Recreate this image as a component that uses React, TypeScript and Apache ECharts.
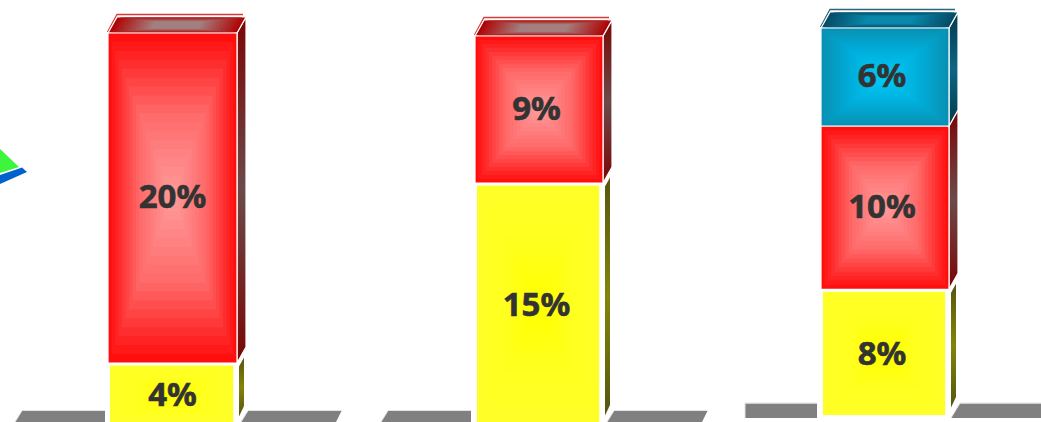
import React, { useEffect, useRef } from "react";
import * as echarts from "echarts";

const chartA = [4, 20];
const chartB = [15, 9];
const chartC = [8, 10, 6];
const segmentOrder = ["yellow", "red", "blue"];
const axisMax = 24;

const palette: any = {
  yellow: { edge: [255, 255, 40], mid: [255, 255, 30], core: [255, 255, 0], sideA: "#55550f", sideB: "#84840a", topA: [128, 128, 0], topB: [160, 160, 64] },
  red: { edge: [255, 14, 14], mid: [255, 105, 105], core: [255, 150, 150], sideA: "#7a0505", sideB: "#6c4a4a", topA: [176, 4, 4], topB: [163, 128, 128] },
  blue: { edge: [8, 145, 180], mid: [0, 175, 220], core: [0, 200, 245], sideA: "#03394d", sideB: "#0d6584", topA: [4, 76, 104], topB: [10, 135, 170] },
};

const depthX = 9;
const depthY = 16;
const rings = 18;
const topRings = 12;
const labelLift = 2.5;

const mix = (a: number[], b: number[], t: number) =>
  `rgb(${a.map((v, i) => Math.round(v + (b[i] - v) * t)).join(",")})`;

const ringColor = (p: any, t: number) =>
  t < 0.5 ? mix(p.edge, p.mid, t / 0.5) : mix(p.mid, p.core, (t - 0.5) / 0.5);

function renderBar(isTop: boolean, name: string, labelDx: number) {
  const p = palette[name];
  const yellow = name === "yellow";
  return (_params: any, api: any) => {
    const base = api.value(1);
    const end = api.value(2);
    const [cx, yb] = api.coord([api.value(0), base]);
    const [, yt] = api.coord([api.value(0), end]);
    const w = api.size([1, 0])[0];
    const x0 = cx - w / 2;
    const x1 = cx + w / 2;
    const children: any[] = [];

    const fx0 = yellow ? x0 + 2 : x0;
    const fx1 = yellow ? x1 - 3.8 : x1;
    const fy0 = yellow ? yt + 2.5 : yt;
    const fy1 = yellow ? yb - 5 : yb;

    const sideFill = { type: "linear", x: 0, y: 0, x2: 0, y2: 1, colorStops: [{ offset: 0, color: p.sideA }, { offset: 0.5, color: p.sideB }, { offset: 1, color: p.sideA }] };
    if (yellow) {
      children.push({
        type: "polygon",
        shape: { points: [[x1 + 2, yt + 3.5], [x1 + 7, yt - 5.5], [x1 + 7, yb - 23], [x1 + 2, yb - 12.5]] },
        style: { fill: sideFill },
      });
    } else {
      children.push({
        type: "polygon",
        shape: { points: [[x1, yt], [x1 + depthX, yt - depthY], [x1 + depthX, yb - depthY], [x1, yb]] },
        style: { fill: sideFill, stroke: "#ffffff", lineWidth: 1.2 },
      });
    }

    if (isTop) {
      children.push({
        type: "polyline",
        shape: { points: [[x0 - 0.5, yt - 1], [x0 + depthX, yt - depthY - 2.5], [x1 + depthX - 3, yt - depthY - 2.5]] },
        style: { fill: "none", stroke: mix(p.topA, [255, 60, 60], name === "red" ? 0.4 : 0), lineWidth: 1.3, opacity: 0.85 },
      });
      const tcx = (x0 + x1 + depthX) / 2;
      const tcy = yt - depthY / 2;
      const topPts = [[x0, yt], [x0 + depthX, yt - depthY], [x1 + depthX, yt - depthY], [x1, yt]];
      for (let i = 0; i < topRings; i++) {
        const t = i / (topRings - 1);
        const sx = 1 - t * 0.62;
        const sy = 1 - t * 0.55;
        const pts = topPts.map(([px, py]) => [tcx + (px - tcx) * sx, tcy + (py - tcy) * sy]);
        children.push({
          type: "polygon",
          shape: { points: pts },
          style: i === 0
            ? { fill: mix(p.topA, p.topB, t), stroke: "#ffffff", lineWidth: 1.2 }
            : { fill: mix(p.topA, p.topB, t) },
        });
      }
    }

    const fw = fx1 - fx0;
    const fh = fy1 - fy0;
    for (let i = 0; i < rings; i++) {
      const t = i / (rings - 1);
      const k = t * 0.46;
      children.push({
        type: "rect",
        shape: { x: fx0 + fw * k, y: fy0 + fh * k, width: fw * (1 - 2 * k), height: fh * (1 - 2 * k) },
        style: i === 0 && !yellow
          ? { fill: ringColor(p, t), stroke: "#ffffff", lineWidth: 1.2 }
          : { fill: ringColor(p, t) },
      });
    }

    children.push({
      type: "text",
      x: cx + labelDx,
      y: (yt + yb) / 2 - labelLift,
      style: {
        text: `${end - base}%`,
        fill: "#333333",
        stroke: "#333333",
        lineWidth: 0.6,
        font: "bold 33px 'Noto Sans'",
        align: "center",
        verticalAlign: "middle",
      },
    });
    return { type: "group", children };
  };
}

const panels = [
  { values: chartA, left: 108, top: 33, height: 396, width: 129, labelDx: 0 },
  { values: chartB, left: 475, top: 36, height: 392, width: 128, labelDx: -2.5 },
  { values: chartC, left: 821, top: 28, height: 392, width: 128, labelDx: -3 },
];

const floorFill = "#808080";
const floorEdge = "#e2e2e2";
const floors = [
  [[22, 411], [105, 411], [105, 422], [15, 422]],
  [[248, 411], [341.5, 411], [336, 422], [241, 422]],
  [[388, 411], [471, 411], [471, 422], [381, 422]],
  [[614, 411], [707.5, 411], [702, 422], [607, 422]],
  [[745, 403.5], [817, 403.5], [817, 418], [745, 418]],
  [[960, 403.5], [1041, 403.5], [1041, 418], [951, 418]],
];

export default function App() {
  const ref = useRef<HTMLDivElement>(null);
  useEffect(() => {
    document.body.style.margin = "0";
    const chart = echarts.init(ref.current!, undefined, { renderer: "svg" });
    const series: any[] = [];
    panels.forEach((panel, idx) => {
      let acc = 0;
      panel.values.forEach((v, s) => {
        series.push({
          type: "custom",
          xAxisIndex: idx,
          yAxisIndex: idx,
          clip: false,
          silent: true,
          z: 2 + s,
          encode: { x: 0, y: [1, 2] },
          renderItem: renderBar(s === panel.values.length - 1, segmentOrder[s], panel.labelDx),
          data: [[0, acc, acc + v]],
        });
        acc += v;
      });
    });
    const graphic: any[] = [];
    floors.forEach((pts) => {
      graphic.push({ type: "polygon", shape: { points: pts }, style: { fill: floorFill }, z: 1 });
      graphic.push({ type: "polyline", shape: { points: [[pts[3][0], pts[3][1]], [pts[0][0], pts[0][1] - 0.5], [pts[1][0], pts[1][1] - 0.5]] }, style: { fill: "none", stroke: floorEdge, lineWidth: 1 }, z: 1 });
    });
    graphic.push({ type: "polygon", shape: { points: [[0, 149], [19, 167], [0, 173]] }, style: { fill: "#3cf53c" }, z: 1 });
    graphic.push({ type: "polygon", shape: { points: [[0, 175], [22, 167.5], [27, 172], [0, 184]] }, style: { fill: "#0062cc" }, z: 1 });

    chart.setOption({
      animation: false,
      backgroundColor: "#ffffff",
      grid: panels.map((p) => ({ left: p.left, top: p.top, width: p.width, height: p.height, containLabel: false })),
      xAxis: panels.map((_, i) => ({ type: "category", gridIndex: i, data: [""], show: false, boundaryGap: true })),
      yAxis: panels.map((_, i) => ({ type: "value", gridIndex: i, min: 0, max: axisMax, show: false })),
      graphic,
      series,
    });
    return () => chart.dispose();
  }, []);
  return (
    <div style={{ width: 1041, height: 422, position: "absolute", left: 0, top: 0, overflow: "hidden" }}>
      <div ref={ref} style={{ width: 1041, height: 470 }} />
    </div>
  );
}
